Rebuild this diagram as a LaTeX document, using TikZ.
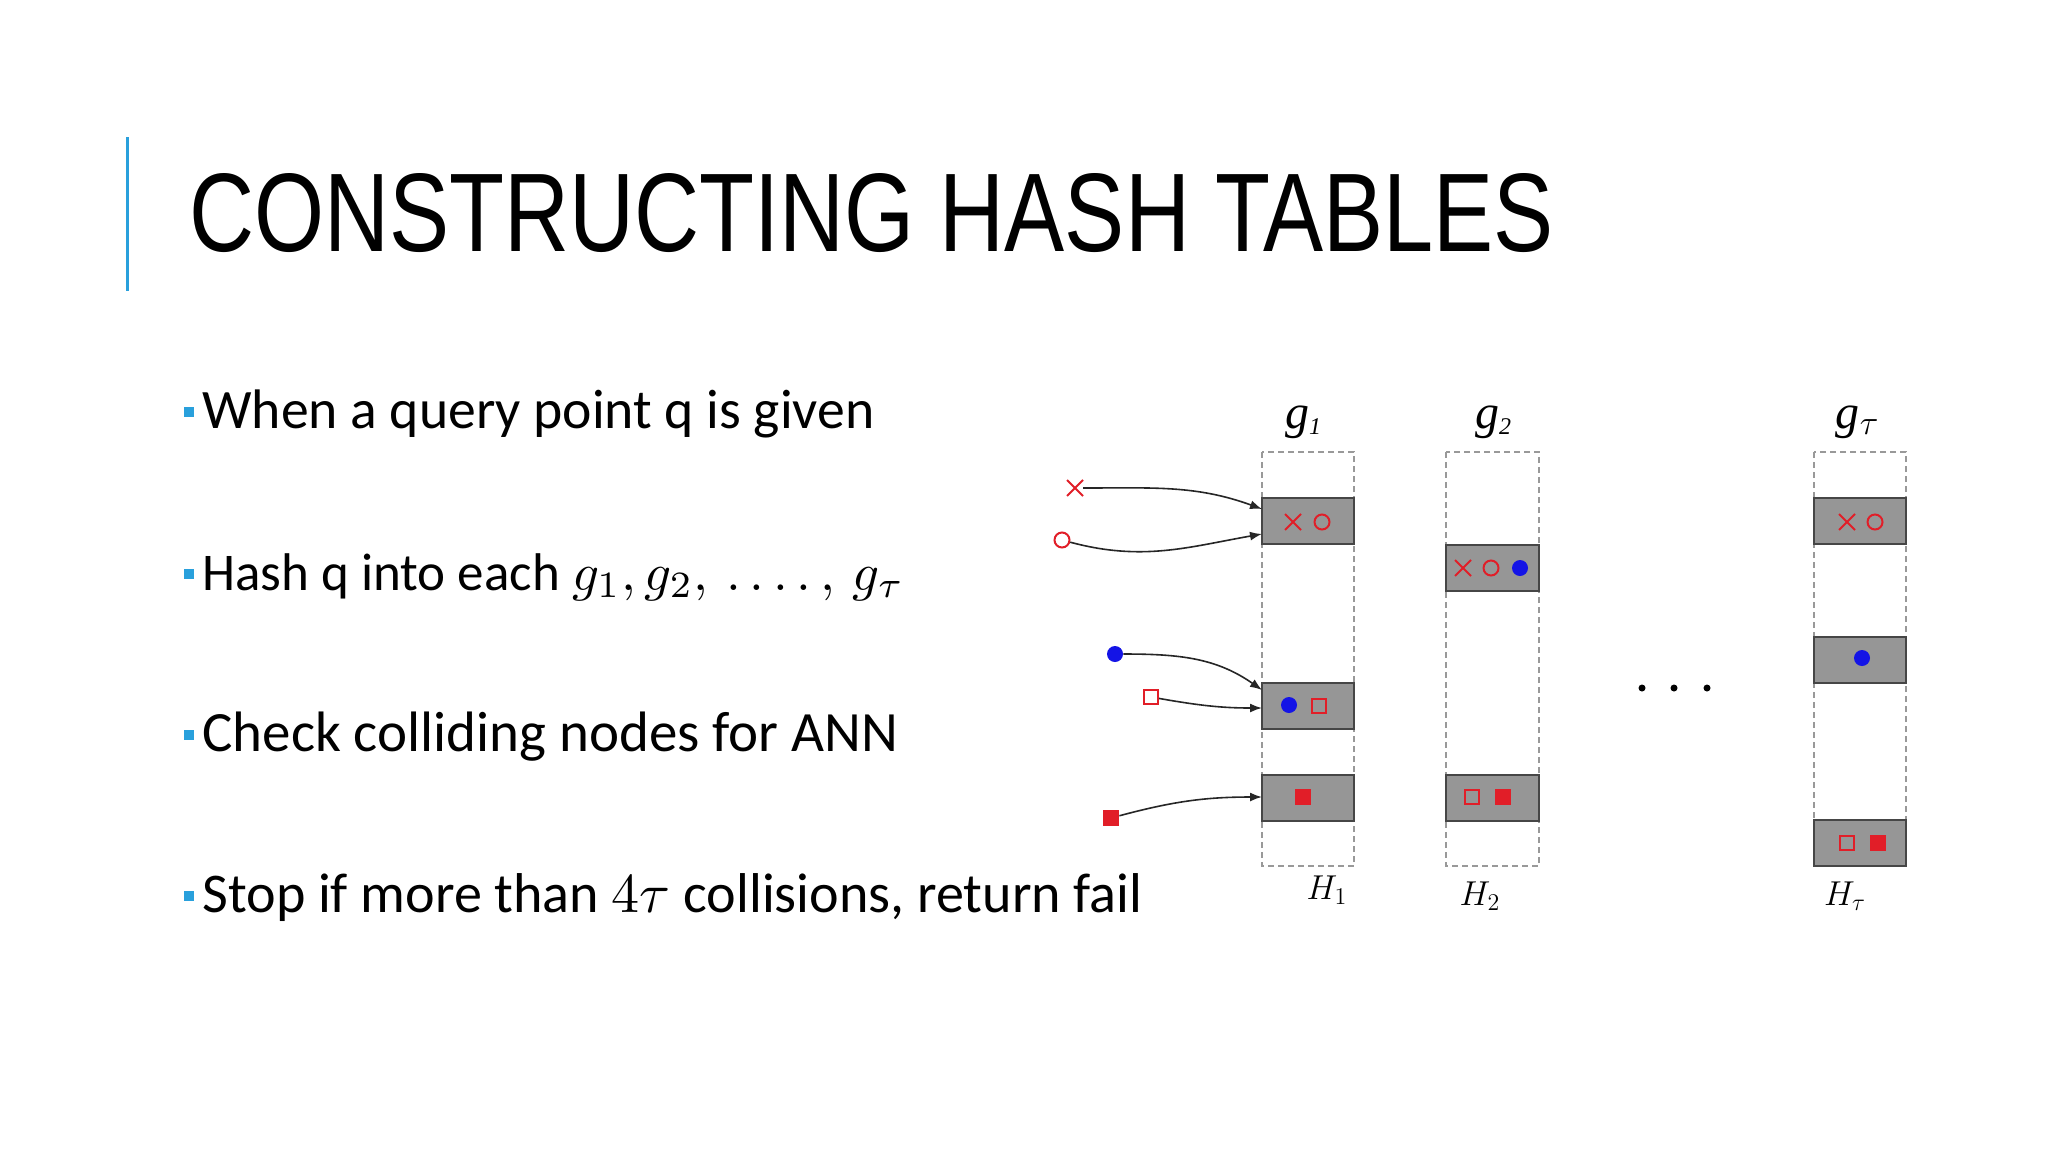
\documentclass[tikz,border=0pt]{standalone}
\usepackage{fontspec}
\setmainfont{Carlito}
\newfontfamily\titlefont{Liberation Sans}
\newfontfamily\timesf{Liberation Serif}
\usetikzlibrary{shapes.misc,arrows.meta}
\definecolor{accent}{RGB}{41,160,220}
\definecolor{mred}{RGB}{225,30,40}
\definecolor{mblue}{RGB}{20,20,230}
\definecolor{bucketgray}{RGB}{150,150,150}
\tikzset{
  bullet/.style={fill=accent,inner sep=0,minimum size=5pt},
  line/.style={anchor=base west,inner sep=0},
  col/.style={draw=gray!80,densely dashed,line width=0.6pt},
  bucket/.style={fill=bucketgray,draw=gray!55!black,line width=0.8pt},
  xm/.style={cross out,draw=mred,line width=1pt,minimum size=7pt,inner sep=0},
  om/.style={circle,draw=mred,line width=1pt,minimum size=7.5pt,inner sep=0},
  bd/.style={circle,fill=mblue,minimum size=8pt,inner sep=0},
  osq/.style={rectangle,draw=mred,line width=1pt,minimum size=7pt,inner sep=0},
  fsq/.style={rectangle,fill=mred,minimum size=8pt,inner sep=0},
  conn/.style={draw=gray!30!black,line width=0.8pt,-{Latex[length=6pt,width=4.5pt]}},
  glab/.style={font=\timesf\itshape\fontsize{24}{24}\selectfont,inner sep=0},
  hlab/.style={font=\fontsize{18}{18}\selectfont,inner sep=0},
  dot/.style={circle,fill=black,minimum size=3.5pt,inner sep=0},
}
\begin{document}
\begin{tikzpicture}[x=0.5pt,y=-0.5pt]
\useasboundingbox[fill=white] (0,0) rectangle (2048,1152);
% title
\draw[accent,line width=1.5pt] (127,137) -- (127,291);
\node[line] (title) at (189,251) {\resizebox{682pt}{39pt}{\titlefont CONSTRUCTING HASH TABLES}};
% bullets
\node[bullet] (b1) at (189,412) {};
\node[line] (t1) at (202,428) {\resizebox{336pt}{!}{When a query point q is given}};
\node[bullet] (b2) at (189,574) {};
\node[line] (t2) at (202,590) {\resizebox{351pt}{!}{Hash q into each $g_1, g_2,\,.\,.\,.\,.\,,\, g_\tau$}};
\node[bullet] (b3) at (189,735) {};
\node[line] (t3) at (202,751) {\resizebox{348pt}{!}{Check colliding nodes for ANN}};
\node[bullet] (b4) at (189,896) {};
\node[line] (t4) at (202,912) {\resizebox{470pt}{!}{Stop if more than $4\tau$ collisions, return fail}};
% columns
\draw[col] (1262,452) rectangle (1354,866);
\draw[col] (1446,452) rectangle (1539,866);
\draw[col] (1814,452) rectangle (1906,866);
\draw[bucket] (1262,498) rectangle (1354,544);
\draw[bucket] (1262,683) rectangle (1354,729);
\draw[bucket] (1262,775) rectangle (1354,821);
\draw[bucket] (1446,545) rectangle (1539,591);
\draw[bucket] (1446,775) rectangle (1539,821);
\draw[bucket] (1814,498) rectangle (1906,544);
\draw[bucket] (1814,637) rectangle (1906,683);
\draw[bucket] (1814,820) rectangle (1906,866);
% labels
\node[glab] (g1) at (1303,422) {g\raisebox{-0.3ex}{\large 1}};
\node[glab] (g2) at (1493,422) {g\raisebox{-0.3ex}{\large 2}};
\node[glab] (gt) at (1857,422) {g\raisebox{-0.3ex}{$\scriptstyle\tau$}};
\node[hlab] (h1) at (1327,890) {$H_1$};
\node[hlab] (h2) at (1480,896) {$H_2$};
\node[hlab] (ht) at (1845,896) {$H_\tau$};
\node[dot] (dt1) at (1642,688) {};
\node[dot] (dt2) at (1674,688) {};
\node[dot] (dt3) at (1707,688) {};
% bucket contents
\node[xm] (a1) at (1293,522) {}; \node[om] (a2) at (1322,522) {};
\node[bd] (a3) at (1289,705) {}; \node[osq] (a4) at (1319,706) {};
\node[fsq] (a5) at (1303,797) {};
\node[xm] (c1) at (1463,568) {}; \node[om] (c2) at (1491,568) {}; \node[bd] (c3) at (1520,568) {};
\node[osq] (c4) at (1472,797) {}; \node[fsq] (c5) at (1503,797) {};
\node[xm] (d1) at (1847,522) {}; \node[om] (d2) at (1875,522) {};
\node[bd] (d3) at (1862,658) {};
\node[osq] (d4) at (1847,843) {}; \node[fsq] (d5) at (1878,843) {};
% query points
\node[xm] (p1) at (1075,488) {};
\node[om] (p2) at (1062,540) {};
\node[bd] (p3) at (1115,654) {};
\node[osq] (p4) at (1151,697) {};
\node[fsq] (p5) at (1111,818) {};
\coordinate (e1) at (1262,509);
\coordinate (e2) at (1262,534);
\coordinate (e3) at (1262,690);
\coordinate (e4) at (1262,708);
\coordinate (e5) at (1262,797);
\draw[conn] (p1) to[out=0,in=160] (e1);
\draw[conn] (p2) to[out=-15,in=190] (e2);
\draw[conn] (p3) to[out=0,in=145] (e3);
\draw[conn] (p4) to[out=-10,in=180] (e4);
\draw[conn] (p5) to[out=15,in=180] (e5);
\end{tikzpicture}
\end{document}
